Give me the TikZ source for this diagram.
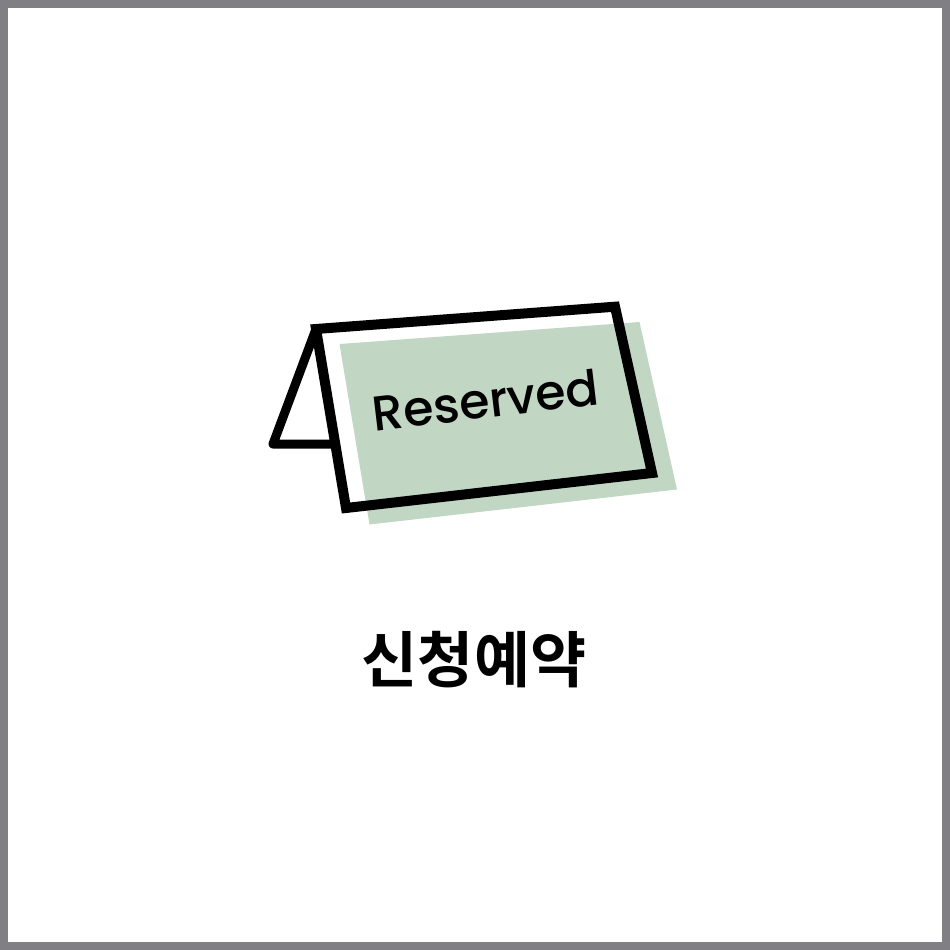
\documentclass[tikz,border=0pt]{standalone}
\usepackage{fontspec}
\setmainfont{Poppins Medium}
\newfontfamily\krfont{Noto Sans CJK KR}[BoldFont={Noto Sans CJK KR Bold}]
\usetikzlibrary{positioning}
\definecolor{frameborder}{HTML}{808084}
\definecolor{cardgreen}{HTML}{C1D7C4}
\tikzset{
  cardline/.style={draw=black, line width=10pt, miter limit=10},
  standline/.style={draw=black, line width=9pt, line join=round, line cap=round},
  cardtext/.style={font=\fontsize{49}{49}\selectfont, rotate=6.75, inner sep=0pt},
  titletext/.style={font=\krfont\bfseries\fontsize{61}{61}\selectfont, inner sep=0pt},
}
\begin{document}
\begin{tikzpicture}[x=1pt, y=-1pt]
  \useasboundingbox (0,0) rectangle (950,950);
  % Outer frame
  \draw[frameborder, line width=8pt] (4,4) rectangle (946,946);

  % Green backing
  \fill[cardgreen] (339.5,344) -- (639.5,322) -- (677,489.5) -- (369.5,524.5) -- cycle;

  % Tent card
  \draw[standline] (316,329) -- (273,444) -- (335,444);
  \draw[cardline] (316,329) -- (615,306.7) -- (652,473) -- (346,508) -- cycle;

  % Labels
  \node[cardtext] (reserved) at (485.5,400) {Reserved};
  \node[titletext] (title) at (474,660) {신청예약};
\end{tikzpicture}
\end{document}
